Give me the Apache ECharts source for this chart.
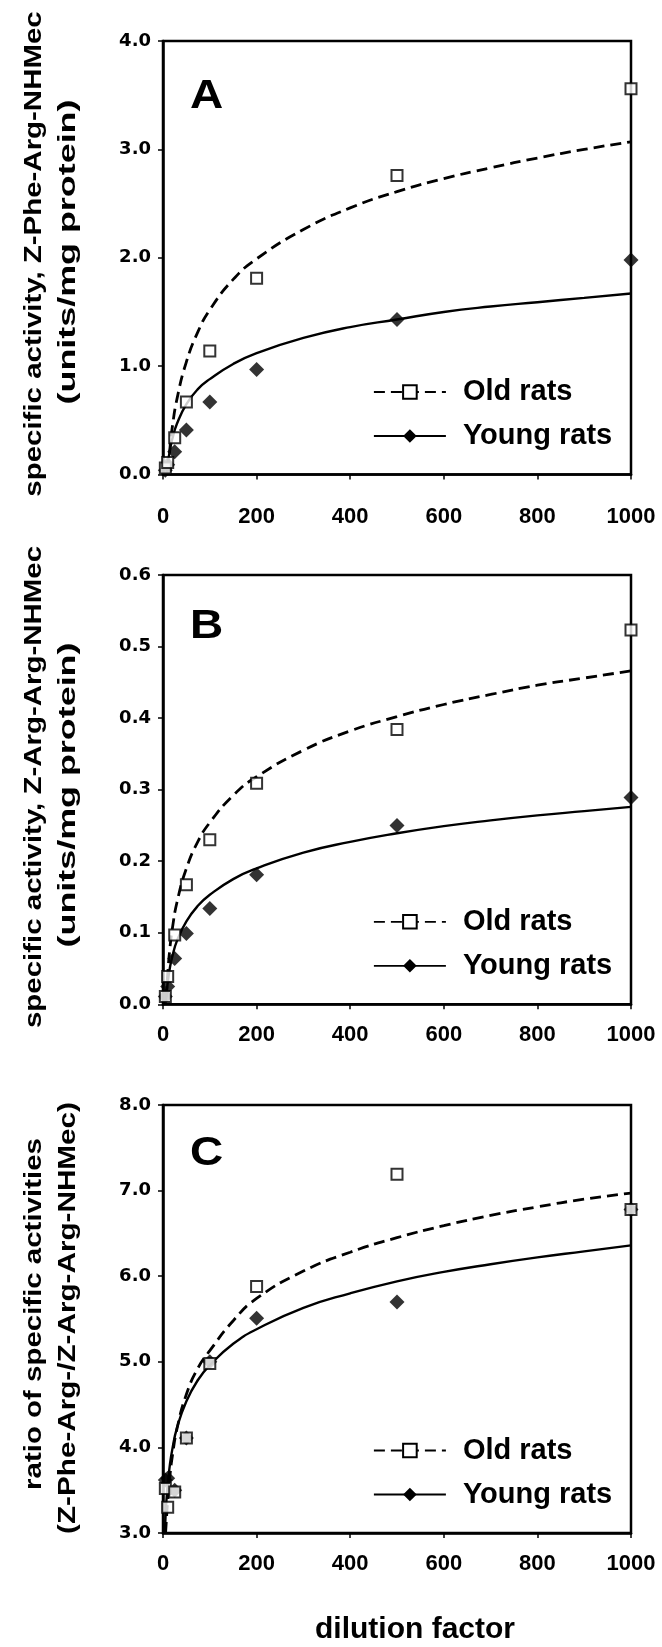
<!DOCTYPE html>
<html><head><meta charset="utf-8">
<script src="https://cdn.jsdelivr.net/npm/echarts@6/dist/echarts.min.js"></script>
<style>html,body{margin:0;padding:0;background:#fff}#c{width:662px;height:1647px}</style>
</head><body><div id="c"></div>
<script>
// ---- data ----
const dilution = [5, 10, 25, 50, 100, 200, 500, 1000];
const xTickLabels = [0, 200, 400, 600, 800, 1000];

const oldA   = [0.06, 0.11, 0.34, 0.67, 1.14, 1.81, 2.76, 3.56];
const youngA = [0.04, 0.09, 0.21, 0.41, 0.67, 0.97, 1.43, 1.98];
const oldB   = [0.011, 0.039, 0.097, 0.167, 0.230, 0.309, 0.384, 0.523];
const youngB = [0.011, 0.025, 0.064, 0.099, 0.134, 0.181, 0.250, 0.289];
const oldC   = [3.52, 3.30, 3.48, 4.11, 4.98, 5.88, 7.19, 6.78];
const youngC = [3.62, 3.64, 3.50, 4.11, 5.00, 5.51, 5.70, 6.78];

// fitted curves
const fitOldAx   = [11, 15, 20, 30, 50, 75, 100, 150, 200, 300, 400, 500, 600, 700, 800, 900, 1000];
const fitOldAy   = [0.04, 0.25, 0.44, 0.70, 1.04, 1.32, 1.52, 1.80, 1.99, 2.26, 2.46, 2.61, 2.73, 2.83, 2.92, 3.00, 3.07];
const fitYoungAx = [8, 10, 15, 20, 30, 50, 75, 100, 150, 200, 300, 400, 500, 600, 700, 800, 900, 1000];
const fitYoungAy = [0.02, 0.10, 0.23, 0.33, 0.47, 0.65, 0.79, 0.88, 1.02, 1.12, 1.26, 1.36, 1.43, 1.50, 1.55, 1.59, 1.63, 1.67];
const fitOldBx   = [7, 10, 15, 20, 30, 50, 75, 100, 150, 200, 300, 400, 500, 600, 700, 800, 900, 1000];
const fitOldBy   = [0.010, 0.042, 0.080, 0.106, 0.143, 0.190, 0.228, 0.254, 0.292, 0.318, 0.355, 0.382, 0.402, 0.419, 0.433, 0.446, 0.456, 0.466];
const fitYoungBx = [6, 10, 15, 20, 30, 50, 75, 100, 150, 200, 300, 400, 500, 600, 700, 800, 900, 1000];
const fitYoungBy = [0.003, 0.030, 0.052, 0.067, 0.089, 0.116, 0.138, 0.153, 0.175, 0.190, 0.212, 0.227, 0.239, 0.249, 0.257, 0.264, 0.270, 0.276];
const fitOldCx   = [5.5, 7, 10, 15, 20, 30, 50, 75, 100, 150, 200, 300, 400, 500, 600, 700, 800, 900, 1000];
const fitOldCy   = [3.00, 3.13, 3.38, 3.68, 3.90, 4.22, 4.62, 4.93, 5.13, 5.48, 5.74, 6.06, 6.28, 6.45, 6.59, 6.71, 6.81, 6.90, 6.97];
const fitYoungCx = [4, 5, 7, 10, 15, 20, 30, 50, 75, 100, 150, 200, 300, 400, 500, 600, 700, 800, 900, 1000];
const fitYoungCy = [3.01, 3.14, 3.35, 3.56, 3.81, 3.98, 4.23, 4.54, 4.79, 4.96, 5.21, 5.38, 5.63, 5.80, 5.94, 6.05, 6.14, 6.22, 6.29, 6.36];

const seriesNames = ['Old rats', 'Young rats'];
const panelLetters = ['A', 'B', 'C'];
const yTitles = [
  ['specific activity, Z-Phe-Arg-NHMec', '(units/mg protein)'],
  ['specific activity, Z-Arg-Arg-NHMec', '(units/mg protein)'],
  ['ratio of specific activities', '(Z-Phe-Arg-/Z-Arg-Arg-NHMec)']
];
const xTitle = 'dilution factor';
const yRanges = [[0, 4, 1], [0, 0.6, 0.1], [3, 8, 1]];

// ---- layout ----
const L = 163, W = 468;
const layout = [
  {top: 41, h: 433.5, lm: 31, t1: [35, 254, 1.28], t2: [69, 252, 1.56], letterY: 97},
  {top: 575, h: 429.3, lm: 20, t1: [35, 787, 1.28], t2: [69, 795, 1.56], letterY: 627},
  {top: 1105, h: 428, lm: 20, t1: [35, 1314, 1.28], t2: [69, 1318, 1.29], letterY: 1154}
];
const pts = [[oldA, youngA], [oldB, youngB], [oldC, youngC]];
const fits = [
  [[fitOldAx, fitOldAy], [fitYoungAx, fitYoungAy]],
  [[fitOldBx, fitOldBy], [fitYoungBx, fitYoungBy]],
  [[fitOldCx, fitOldCy], [fitYoungCx, fitYoungCy]]
];
const zip = (a, b) => a.map((v, i) => [v, b[i]]);

const grid = [], xAxis = [], yAxis = [], series = [], legend = [], graphic = [];
layout.forEach((p, i) => {
  grid.push({left: L, width: W, top: p.top, height: p.h, show: true, borderColor: '#000', borderWidth: 2.5, backgroundColor: 'transparent'});
  xAxis.push({
    gridIndex: i, type: 'value', min: 0, max: 1000, interval: 200,
    axisLine: {show: true, lineStyle: {color: '#000', width: 2.5}},
    axisTick: {show: true, length: 5, lineStyle: {color: '#000', width: 1.5}},
    splitLine: {show: false},
    axisLabel: {margin: p.lm, color: '#000', fontFamily: 'Liberation Sans', fontWeight: 'bold', fontSize: 22,
      formatter: v => xTickLabels.includes(v) ? String(v) : ''}
  });
  const yr = yRanges[i];
  yAxis.push({
    gridIndex: i, type: 'value', min: yr[0], max: yr[1], interval: yr[2],
    axisLine: {show: true, lineStyle: {color: '#000', width: 2.5}},
    axisTick: {show: true, length: 5, lineStyle: {color: '#000', width: 1.5}},
    splitLine: {show: false},
    axisLabel: {margin: 12, color: '#000', fontFamily: 'DejaVu Sans', fontWeight: 'bold', fontSize: 18,
      formatter: v => v.toFixed(1)}
  });
  const dashes = [[11, 6], 'solid'];
  const widths = [2.8, 2.4];
  const legSym = ['emptyRect', 'diamond'];
  [0, 1].forEach(k => {
    series.push({
      name: seriesNames[k], type: 'line', xAxisIndex: i, yAxisIndex: i,
      data: zip(fits[i][k][0], fits[i][k][1]),
      smooth: 0.5, showSymbol: false, symbol: legSym[k], symbolSize: 10,
      lineStyle: {color: '#000', width: widths[k], type: dashes[k]},
      itemStyle: {color: '#000'}, z: 2, silent: true
    });
  });
  series.push({
    name: 'Young rats data', type: 'scatter', xAxisIndex: i, yAxisIndex: i,
    data: zip(dilution, pts[i][1]), symbol: 'diamond', symbolSize: 15, clip: false,
    itemStyle: {color: '#000'}, z: 3, silent: true
  });
  series.push({
    name: 'Old rats data', type: 'scatter', xAxisIndex: i, yAxisIndex: i,
    data: zip(dilution, pts[i][0]), symbol: 'rect', symbolSize: 11, clip: false,
    itemStyle: {color: '#fff', borderColor: '#000', borderWidth: 2}, z: 4, silent: true
  });
  const bottom = p.top + p.h;
  legend.push({
    orient: 'vertical', left: 368, top: bottom - 87.5 - 15, itemWidth: 72, itemHeight: 17, itemGap: 14,
    data: seriesNames, selectedMode: false,
    lineStyle: {width: 1.8},
    textStyle: {fontFamily: 'Liberation Sans', fontWeight: 'bold', fontSize: 29, color: '#000', lineHeight: 30, padding: [0, 0, 0, 12]}
  });
  graphic.push({
    type: 'text', x: 190, y: p.letterY, scaleX: 1.15,
    style: {text: panelLetters[i], font: 'bold 40px "Liberation Sans"', fill: '#000', align: 'left', verticalAlign: 'middle', textAlign: 'left', textVerticalAlign: 'middle'}
  });
  [p.t1, p.t2].forEach((pos, j) => {
    graphic.push({
      type: 'text', x: pos[0], y: pos[1], rotation: Math.PI / 2, scaleX: pos[2], scaleY: 1,
      style: {text: yTitles[i][j], font: 'bold 23px "Liberation Sans"', fill: '#000', align: 'center', verticalAlign: 'middle', textAlign: 'center', textVerticalAlign: 'middle'}
    });
  });
});
graphic.push({
  type: 'text', x: 415, y: 1630,
  style: {text: xTitle, font: 'bold 30px "Liberation Sans"', fill: '#000', align: 'center', verticalAlign: 'middle', textAlign: 'center', textVerticalAlign: 'middle'}
});

const chart = echarts.init(document.getElementById('c'), null, {renderer: 'canvas'});
chart.setOption({animation: false, backgroundColor: '#fff', grid, xAxis, yAxis, series, legend, graphic});
</script></body></html>
